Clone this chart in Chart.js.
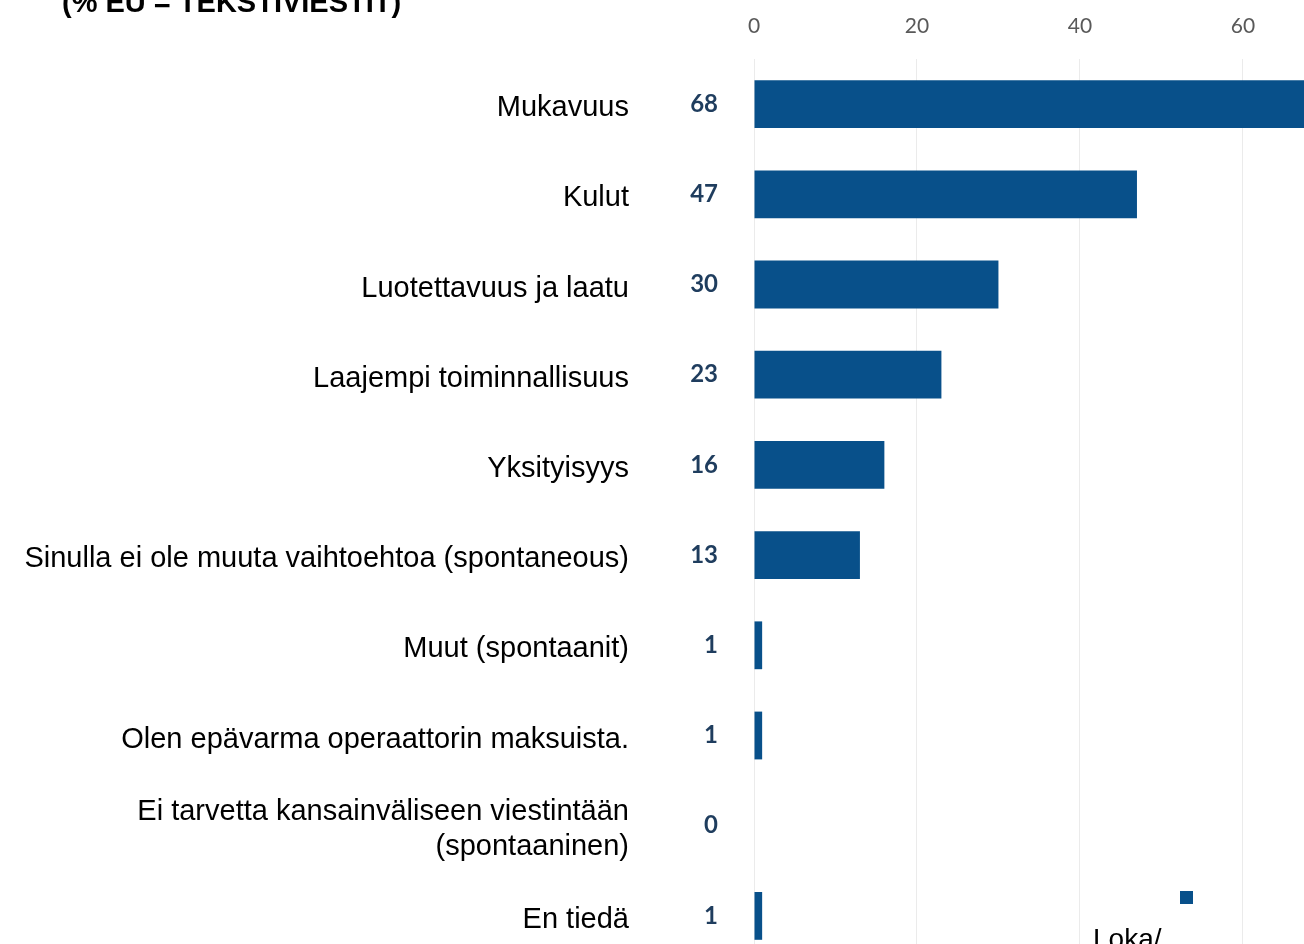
<!DOCTYPE html>
<html>
<head>
<meta charset="utf-8">
<script src="https://cdn.jsdelivr.net/npm/chart.js@4"></script>
<style>
  html, body { margin: 0; padding: 0; background: #fff; overflow: hidden; }
  #wrap { position: relative; width: 1304px; height: 961px; }
  #chart { position: absolute; left: 0; top: 0; }
  #title { position: absolute; left: 62px; top: -12px; font: bold 29px "Liberation Sans", Arial, sans-serif; line-height: 29px; color: #000; white-space: nowrap; }
  #legbox { position: absolute; left: 1180px; top: 891px; width: 13px; height: 13px; background: #08508a; }
  #legtxt { position: absolute; left: 1093px; top: 925px; font: 28px "Liberation Sans", Arial, sans-serif; line-height: 28px; color: #000; }
</style>
</head>
<body>
<div id="wrap">
  <canvas id="chart" width="1304" height="961"></canvas>
  <div id="title">(% EU = TEKSTIVIESTIT)</div>
  <div id="legbox"></div>
  <div id="legtxt">Loka/</div>
</div>
<script>
const categories = [
  'Mukavuus',
  'Kulut',
  'Luotettavuus ja laatu',
  'Laajempi toiminnallisuus',
  'Yksityisyys',
  'Sinulla ei ole muuta vaihtoehtoa (spontaneous)',
  'Muut (spontaanit)',
  'Olen epävarma operaattorin maksuista.',
  ['Ei tarvetta kansainväliseen viestintään', '(spontaaninen)'],
  'En tiedä'
];
const values = [68, 47, 30, 23, 16, 13, 1, 1, 0, 1];
const xTicks = [0, 20, 40, 60];

// numbers left of the bars
const valueLabels = {
  id: 'valueLabels',
  afterDatasetsDraw(chart) {
    const ctx = chart.ctx;
    const meta = chart.getDatasetMeta(0);
    ctx.save();
    ctx.font = 'bold 24px Lato, "Open Sans", sans-serif';
    ctx.fillStyle = '#1f3d5e';
    ctx.textAlign = 'right';
    ctx.textBaseline = 'middle';
    meta.data.forEach((bar, i) => {
      ctx.fillText(String(values[i]), chart.chartArea.left - 36, bar.y);
    });
    ctx.restore();
  }
};

const chart = new Chart(document.getElementById('chart'), {
  type: 'bar',
  data: {
    labels: categories,
    datasets: [{
      label: 'Loka/',
      data: values,
      backgroundColor: '#08508a',
      borderWidth: 0,
      barPercentage: 0.53,
      categoryPercentage: 1
    }]
  },
  options: {
    indexAxis: 'y',
    responsive: false,
    animation: false,
    layout: { padding: 0 },
    plugins: {
      legend: { display: false },
      tooltip: { enabled: false }
    },
    scales: {
      x: {
        position: 'top',
        min: 0,
        max: 67.5,
        afterBuildTicks: (s) => { s.ticks = xTicks.map(v => ({ value: v })); },
        afterFit: (s) => { s.height = 59; },
        grid: { color: '#ebebeb', drawTicks: false },
        border: { display: false },
        ticks: {
          padding: 20,
          color: '#595959',
          font: { family: 'Lato, "Open Sans", sans-serif', size: 21 }
        }
      },
      y: {
        // fixed width so the plot starts where the reference does
        afterFit: (s) => { s.width = 754; s.paddingTop = 0; s.paddingBottom = 0; },
        grid: { display: false, drawTicks: false },
        border: { display: false },
        ticks: {
          padding: 125,
          labelOffset: 4,
          color: '#000',
          font: { family: '"Liberation Sans", Arial, sans-serif', size: 29, lineHeight: 1.2 }
        }
      }
    }
  },
  plugins: [valueLabels]
});
</script>
</body>
</html>
